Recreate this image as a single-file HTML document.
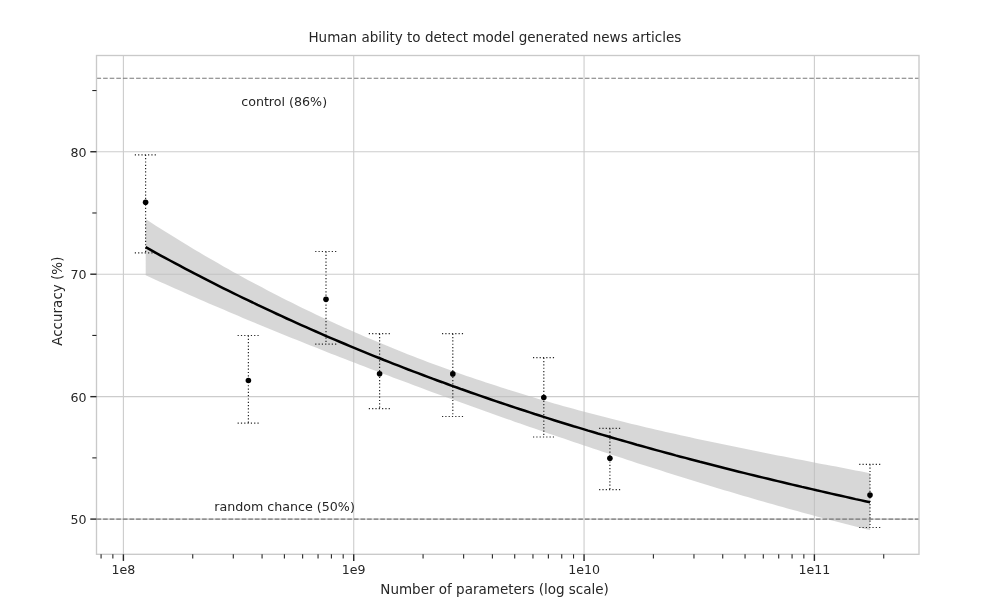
<!DOCTYPE html>
<html lang="en"><head><meta charset="utf-8"><title>Human ability to detect model generated news articles</title>
<style>html,body{margin:0;padding:0;background:#fff;overflow:hidden}body{width:1000px;height:607px}</style></head>
<body>
<svg width="1000" height="607" viewBox="0 0 1000 607" style="display:block">
<rect width="1000" height="607" fill="#fff"/>
<line x1="123.40" y1="55.5" x2="123.40" y2="554.3" stroke="#cccccc" stroke-width="1.1"/>
<line x1="353.73" y1="55.5" x2="353.73" y2="554.3" stroke="#cccccc" stroke-width="1.1"/>
<line x1="584.06" y1="55.5" x2="584.06" y2="554.3" stroke="#cccccc" stroke-width="1.1"/>
<line x1="814.39" y1="55.5" x2="814.39" y2="554.3" stroke="#cccccc" stroke-width="1.1"/>
<line x1="96.5" y1="519.10" x2="919.0" y2="519.10" stroke="#cccccc" stroke-width="1.1"/>
<line x1="96.5" y1="396.65" x2="919.0" y2="396.65" stroke="#cccccc" stroke-width="1.1"/>
<line x1="96.5" y1="274.20" x2="919.0" y2="274.20" stroke="#cccccc" stroke-width="1.1"/>
<line x1="96.5" y1="151.75" x2="919.0" y2="151.75" stroke="#cccccc" stroke-width="1.1"/>
<path d="M145.7,219.1 L150.6,222.3 L155.4,225.4 L160.3,228.5 L165.1,231.6 L170.0,234.6 L174.9,237.6 L179.7,240.6 L184.6,243.6 L189.5,246.5 L194.3,249.4 L199.2,252.3 L204.0,255.2 L208.9,258.0 L213.8,260.8 L218.6,263.6 L223.5,266.4 L228.3,269.1 L233.2,271.9 L238.1,274.5 L242.9,277.2 L247.8,279.9 L252.7,282.5 L257.5,285.1 L262.4,287.6 L267.2,290.2 L272.1,292.7 L277.0,295.2 L281.8,297.7 L286.7,300.2 L291.6,302.6 L296.4,305.0 L301.3,307.4 L306.1,309.8 L311.0,312.1 L315.9,314.4 L320.7,316.7 L325.6,319.0 L330.4,321.2 L335.3,323.5 L340.2,325.7 L345.0,327.9 L349.9,330.0 L354.8,332.2 L359.6,334.3 L364.5,336.4 L369.3,338.5 L374.2,340.5 L379.1,342.6 L383.9,344.6 L388.8,346.6 L393.6,348.6 L398.5,350.5 L403.4,352.5 L408.2,354.4 L413.1,356.3 L418.0,358.2 L422.8,360.0 L427.7,361.9 L432.5,363.7 L437.4,365.5 L442.3,367.3 L447.1,369.0 L452.0,370.8 L456.9,372.5 L461.7,374.2 L466.6,375.9 L471.4,377.6 L476.3,379.2 L481.2,380.8 L486.0,382.5 L490.9,384.1 L495.7,385.6 L500.6,387.2 L505.5,388.8 L510.3,390.3 L515.2,391.8 L520.1,393.3 L524.9,394.8 L529.8,396.3 L534.6,397.7 L539.5,399.2 L544.4,400.6 L549.2,402.0 L554.1,403.4 L558.9,404.8 L563.8,406.2 L568.7,407.5 L573.5,408.8 L578.4,410.2 L583.3,411.5 L588.1,412.8 L593.0,414.1 L597.8,415.3 L602.7,416.6 L607.6,417.8 L612.4,419.1 L617.3,420.3 L622.2,421.5 L627.0,422.7 L631.9,423.9 L636.7,425.1 L641.6,426.2 L646.5,427.4 L651.3,428.5 L656.2,429.7 L661.0,430.8 L665.9,431.9 L670.8,433.0 L675.6,434.1 L680.5,435.2 L685.4,436.3 L690.2,437.3 L695.1,438.4 L699.9,439.5 L704.8,440.5 L709.7,441.5 L714.5,442.6 L719.4,443.6 L724.2,444.6 L729.1,445.6 L734.0,446.6 L738.8,447.6 L743.7,448.6 L748.6,449.6 L753.4,450.6 L758.3,451.5 L763.1,452.5 L768.0,453.5 L772.9,454.4 L777.7,455.4 L782.6,456.3 L787.5,457.3 L792.3,458.2 L797.2,459.2 L802.0,460.1 L806.9,461.1 L811.8,462.0 L816.6,462.9 L821.5,463.9 L826.3,464.8 L831.2,465.7 L836.1,466.6 L840.9,467.6 L845.8,468.5 L850.7,469.4 L855.5,470.4 L860.4,471.3 L865.2,472.2 L870.1,473.2 L870.1,530.1 L865.2,528.9 L860.4,527.7 L855.5,526.5 L850.7,525.3 L845.8,524.0 L840.9,522.8 L836.1,521.5 L831.2,520.3 L826.3,519.0 L821.5,517.7 L816.6,516.4 L811.8,515.1 L806.9,513.8 L802.0,512.5 L797.2,511.1 L792.3,509.8 L787.5,508.4 L782.6,507.1 L777.7,505.7 L772.9,504.3 L768.0,503.0 L763.1,501.6 L758.3,500.2 L753.4,498.8 L748.6,497.3 L743.7,495.9 L738.8,494.5 L734.0,493.1 L729.1,491.6 L724.2,490.2 L719.4,488.7 L714.5,487.2 L709.7,485.7 L704.8,484.3 L699.9,482.8 L695.1,481.3 L690.2,479.8 L685.4,478.3 L680.5,476.8 L675.6,475.2 L670.8,473.7 L665.9,472.2 L661.0,470.6 L656.2,469.1 L651.3,467.5 L646.5,466.0 L641.6,464.4 L636.7,462.9 L631.9,461.3 L627.0,459.7 L622.2,458.1 L617.3,456.5 L612.4,454.9 L607.6,453.3 L602.7,451.7 L597.8,450.1 L593.0,448.5 L588.1,446.8 L583.3,445.2 L578.4,443.6 L573.5,441.9 L568.7,440.3 L563.8,438.6 L558.9,437.0 L554.1,435.3 L549.2,433.7 L544.4,432.0 L539.5,430.3 L534.6,428.6 L529.8,426.9 L524.9,425.3 L520.1,423.6 L515.2,421.9 L510.3,420.1 L505.5,418.4 L500.6,416.7 L495.7,415.0 L490.9,413.3 L486.0,411.5 L481.2,409.8 L476.3,408.1 L471.4,406.3 L466.6,404.6 L461.7,402.8 L456.9,401.0 L452.0,399.3 L447.1,397.5 L442.3,395.7 L437.4,394.0 L432.5,392.2 L427.7,390.4 L422.8,388.6 L418.0,386.8 L413.1,385.0 L408.2,383.1 L403.4,381.3 L398.5,379.5 L393.6,377.7 L388.8,375.8 L383.9,374.0 L379.1,372.2 L374.2,370.3 L369.3,368.4 L364.5,366.6 L359.6,364.7 L354.8,362.8 L349.9,360.9 L345.0,359.1 L340.2,357.2 L335.3,355.3 L330.4,353.4 L325.6,351.4 L320.7,349.5 L315.9,347.6 L311.0,345.7 L306.1,343.7 L301.3,341.8 L296.4,339.8 L291.6,337.9 L286.7,335.9 L281.8,333.9 L277.0,331.9 L272.1,330.0 L267.2,328.0 L262.4,326.0 L257.5,323.9 L252.7,321.9 L247.8,319.9 L242.9,317.9 L238.1,315.8 L233.2,313.8 L228.3,311.7 L223.5,309.6 L218.6,307.6 L213.8,305.5 L208.9,303.4 L204.0,301.3 L199.2,299.2 L194.3,297.0 L189.5,294.9 L184.6,292.8 L179.7,290.6 L174.9,288.4 L170.0,286.3 L165.1,284.1 L160.3,281.9 L155.4,279.7 L150.6,277.5 L145.7,275.3Z" fill="#bdbdbd" fill-opacity="0.6"/>
<line x1="96.5" y1="78.28" x2="919.0" y2="78.28" stroke="#787878" stroke-width="1.15" stroke-dasharray="4.6 2"/>
<line x1="96.5" y1="519.10" x2="919.0" y2="519.10" stroke="#787878" stroke-width="1.15" stroke-dasharray="4.6 2"/>
<path d="M145.6,154.8V252.9M134.8,154.8H156.4M134.8,252.9H156.4" fill="none" stroke="#262626" stroke-width="1.2" stroke-dasharray="1.2 2.11"/>
<path d="M248.4,335.5V423.1M237.6,335.5H259.2M237.6,423.1H259.2" fill="none" stroke="#262626" stroke-width="1.2" stroke-dasharray="1.2 2.11"/>
<path d="M326.0,251.5V344.2M315.2,251.5H336.8M315.2,344.2H336.8" fill="none" stroke="#262626" stroke-width="1.2" stroke-dasharray="1.2 2.11"/>
<path d="M379.6,333.7V408.6M368.8,333.7H390.4M368.8,408.6H390.4" fill="none" stroke="#262626" stroke-width="1.2" stroke-dasharray="1.2 2.11"/>
<path d="M452.8,333.7V416.5M442.0,333.7H463.6M442.0,416.5H463.6" fill="none" stroke="#262626" stroke-width="1.2" stroke-dasharray="1.2 2.11"/>
<path d="M543.8,357.7V437.0M533.0,357.7H554.6M533.0,437.0H554.6" fill="none" stroke="#262626" stroke-width="1.2" stroke-dasharray="1.2 2.11"/>
<path d="M609.9,428.3V489.7M599.1,428.3H620.7M599.1,489.7H620.7" fill="none" stroke="#262626" stroke-width="1.2" stroke-dasharray="1.2 2.11"/>
<path d="M870.0,464.3V527.5M859.2,464.3H880.8M859.2,527.5H880.8" fill="none" stroke="#262626" stroke-width="1.2" stroke-dasharray="1.2 2.11"/>
<path d="M145.7,247.2 L150.6,249.9 L155.4,252.6 L160.3,255.3 L165.1,257.9 L170.0,260.5 L174.9,263.1 L179.7,265.7 L184.6,268.3 L189.5,270.8 L194.3,273.4 L199.2,275.9 L204.0,278.4 L208.9,280.9 L213.8,283.4 L218.6,285.8 L223.5,288.3 L228.3,290.7 L233.2,293.1 L238.1,295.5 L242.9,297.8 L247.8,300.2 L252.7,302.5 L257.5,304.9 L262.4,307.2 L267.2,309.4 L272.1,311.7 L277.0,314.0 L281.8,316.2 L286.7,318.5 L291.6,320.7 L296.4,322.9 L301.3,325.1 L306.1,327.2 L311.0,329.4 L315.9,331.5 L320.7,333.6 L325.6,335.8 L330.4,337.8 L335.3,339.9 L340.2,342.0 L345.0,344.0 L349.9,346.1 L354.8,348.1 L359.6,350.1 L364.5,352.1 L369.3,354.1 L374.2,356.1 L379.1,358.0 L383.9,360.0 L388.8,361.9 L393.6,363.8 L398.5,365.7 L403.4,367.6 L408.2,369.5 L413.1,371.3 L418.0,373.2 L422.8,375.0 L427.7,376.8 L432.5,378.7 L437.4,380.5 L442.3,382.2 L447.1,384.0 L452.0,385.8 L456.9,387.5 L461.7,389.3 L466.6,391.0 L471.4,392.7 L476.3,394.4 L481.2,396.1 L486.0,397.8 L490.9,399.5 L495.7,401.1 L500.6,402.8 L505.5,404.4 L510.3,406.0 L515.2,407.6 L520.1,409.2 L524.9,410.8 L529.8,412.4 L534.6,414.0 L539.5,415.5 L544.4,417.1 L549.2,418.6 L554.1,420.2 L558.9,421.7 L563.8,423.2 L568.7,424.7 L573.5,426.2 L578.4,427.6 L583.3,429.1 L588.1,430.6 L593.0,432.0 L597.8,433.5 L602.7,434.9 L607.6,436.3 L612.4,437.7 L617.3,439.1 L622.2,440.5 L627.0,441.9 L631.9,443.3 L636.7,444.7 L641.6,446.0 L646.5,447.4 L651.3,448.7 L656.2,450.1 L661.0,451.4 L665.9,452.7 L670.8,454.0 L675.6,455.4 L680.5,456.7 L685.4,457.9 L690.2,459.2 L695.1,460.5 L699.9,461.8 L704.8,463.0 L709.7,464.3 L714.5,465.5 L719.4,466.8 L724.2,468.0 L729.1,469.2 L734.0,470.5 L738.8,471.7 L743.7,472.9 L748.6,474.1 L753.4,475.3 L758.3,476.5 L763.1,477.6 L768.0,478.8 L772.9,480.0 L777.7,481.1 L782.6,482.3 L787.5,483.5 L792.3,484.6 L797.2,485.7 L802.0,486.9 L806.9,488.0 L811.8,489.1 L816.6,490.3 L821.5,491.4 L826.3,492.5 L831.2,493.6 L836.1,494.7 L840.9,495.8 L845.8,496.9 L850.7,498.0 L855.5,499.1 L860.4,500.1 L865.2,501.2 L870.1,502.3" fill="none" stroke="#000" stroke-width="2.5" stroke-linejoin="round"/>
<circle cx="145.6" cy="202.3" r="2.8" fill="#000"/>
<circle cx="248.4" cy="380.5" r="2.8" fill="#000"/>
<circle cx="326.0" cy="299.2" r="2.8" fill="#000"/>
<circle cx="379.6" cy="373.7" r="2.8" fill="#000"/>
<circle cx="452.8" cy="373.9" r="2.8" fill="#000"/>
<circle cx="543.8" cy="397.5" r="2.8" fill="#000"/>
<circle cx="609.9" cy="458.3" r="2.8" fill="#000"/>
<circle cx="870.0" cy="495.1" r="2.8" fill="#000"/>
<rect x="96.5" y="55.5" width="822.5" height="498.79999999999995" fill="none" stroke="#c9c9c9" stroke-width="1.35"/>
<line x1="90.3" y1="519.10" x2="96.5" y2="519.10" stroke="#262626" stroke-width="1.4"/>
<line x1="90.3" y1="396.65" x2="96.5" y2="396.65" stroke="#262626" stroke-width="1.4"/>
<line x1="90.3" y1="274.20" x2="96.5" y2="274.20" stroke="#262626" stroke-width="1.4"/>
<line x1="90.3" y1="151.75" x2="96.5" y2="151.75" stroke="#262626" stroke-width="1.4"/>
<line x1="92.3" y1="457.88" x2="96.5" y2="457.88" stroke="#262626" stroke-width="1.1"/>
<line x1="92.3" y1="335.43" x2="96.5" y2="335.43" stroke="#262626" stroke-width="1.1"/>
<line x1="92.3" y1="212.98" x2="96.5" y2="212.98" stroke="#262626" stroke-width="1.1"/>
<line x1="92.3" y1="90.53" x2="96.5" y2="90.53" stroke="#262626" stroke-width="1.1"/>
<line x1="123.40" y1="554.3" x2="123.40" y2="560.9" stroke="#262626" stroke-width="1.4"/>
<line x1="353.73" y1="554.3" x2="353.73" y2="560.9" stroke="#262626" stroke-width="1.4"/>
<line x1="584.06" y1="554.3" x2="584.06" y2="560.9" stroke="#262626" stroke-width="1.4"/>
<line x1="814.39" y1="554.3" x2="814.39" y2="560.9" stroke="#262626" stroke-width="1.4"/>
<line x1="101.08" y1="554.3" x2="101.08" y2="558.5" stroke="#262626" stroke-width="1.1"/>
<line x1="112.86" y1="554.3" x2="112.86" y2="558.5" stroke="#262626" stroke-width="1.1"/>
<line x1="192.74" y1="554.3" x2="192.74" y2="558.5" stroke="#262626" stroke-width="1.1"/>
<line x1="233.30" y1="554.3" x2="233.30" y2="558.5" stroke="#262626" stroke-width="1.1"/>
<line x1="262.07" y1="554.3" x2="262.07" y2="558.5" stroke="#262626" stroke-width="1.1"/>
<line x1="284.39" y1="554.3" x2="284.39" y2="558.5" stroke="#262626" stroke-width="1.1"/>
<line x1="302.63" y1="554.3" x2="302.63" y2="558.5" stroke="#262626" stroke-width="1.1"/>
<line x1="318.05" y1="554.3" x2="318.05" y2="558.5" stroke="#262626" stroke-width="1.1"/>
<line x1="331.41" y1="554.3" x2="331.41" y2="558.5" stroke="#262626" stroke-width="1.1"/>
<line x1="343.19" y1="554.3" x2="343.19" y2="558.5" stroke="#262626" stroke-width="1.1"/>
<line x1="423.07" y1="554.3" x2="423.07" y2="558.5" stroke="#262626" stroke-width="1.1"/>
<line x1="463.63" y1="554.3" x2="463.63" y2="558.5" stroke="#262626" stroke-width="1.1"/>
<line x1="492.40" y1="554.3" x2="492.40" y2="558.5" stroke="#262626" stroke-width="1.1"/>
<line x1="514.72" y1="554.3" x2="514.72" y2="558.5" stroke="#262626" stroke-width="1.1"/>
<line x1="532.96" y1="554.3" x2="532.96" y2="558.5" stroke="#262626" stroke-width="1.1"/>
<line x1="548.38" y1="554.3" x2="548.38" y2="558.5" stroke="#262626" stroke-width="1.1"/>
<line x1="561.74" y1="554.3" x2="561.74" y2="558.5" stroke="#262626" stroke-width="1.1"/>
<line x1="573.52" y1="554.3" x2="573.52" y2="558.5" stroke="#262626" stroke-width="1.1"/>
<line x1="653.40" y1="554.3" x2="653.40" y2="558.5" stroke="#262626" stroke-width="1.1"/>
<line x1="693.96" y1="554.3" x2="693.96" y2="558.5" stroke="#262626" stroke-width="1.1"/>
<line x1="722.73" y1="554.3" x2="722.73" y2="558.5" stroke="#262626" stroke-width="1.1"/>
<line x1="745.05" y1="554.3" x2="745.05" y2="558.5" stroke="#262626" stroke-width="1.1"/>
<line x1="763.29" y1="554.3" x2="763.29" y2="558.5" stroke="#262626" stroke-width="1.1"/>
<line x1="778.71" y1="554.3" x2="778.71" y2="558.5" stroke="#262626" stroke-width="1.1"/>
<line x1="792.07" y1="554.3" x2="792.07" y2="558.5" stroke="#262626" stroke-width="1.1"/>
<line x1="803.85" y1="554.3" x2="803.85" y2="558.5" stroke="#262626" stroke-width="1.1"/>
<line x1="883.73" y1="554.3" x2="883.73" y2="558.5" stroke="#262626" stroke-width="1.1"/>
<g style="font-family:&quot;DejaVu Sans&quot;,&quot;Liberation Sans&quot;,sans-serif;fill:#262626" font-size="12.6">
<text x="86.5" y="524.1" text-anchor="end">50</text>
<text x="86.5" y="401.7" text-anchor="end">60</text>
<text x="86.5" y="279.2" text-anchor="end">70</text>
<text x="86.5" y="156.8" text-anchor="end">80</text>
<text x="123.4" y="573.8" text-anchor="middle">1e8</text>
<text x="353.7" y="573.8" text-anchor="middle">1e9</text>
<text x="584.1" y="573.8" text-anchor="middle">1e10</text>
<text x="814.4" y="573.8" text-anchor="middle">1e11</text>
<text x="494.9" y="42.2" text-anchor="middle" font-size="13.5">Human ability to detect model generated news articles</text>
<text x="494.6" y="593.8" text-anchor="middle" font-size="13.5">Number of parameters (log scale)</text>
<text transform="translate(62.1,301.2) rotate(-90)" text-anchor="middle" font-size="13.5">Accuracy (%)</text>
<text x="241.2" y="106.2" font-size="12.66">control (86%)</text>
<text x="214.2" y="510.7" font-size="12.66">random chance (50%)</text>
</g></svg>
</body></html>
